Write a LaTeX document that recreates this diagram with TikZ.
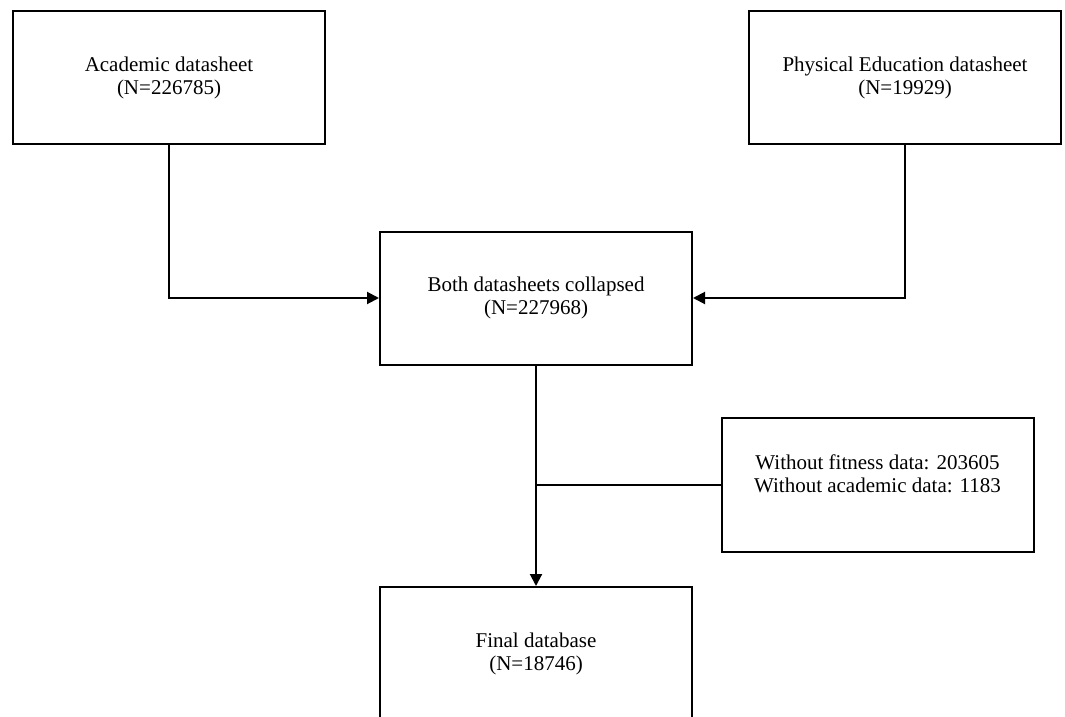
\documentclass[tikz,border=0pt]{standalone}
\usepackage{fontspec}
\setmainfont{Liberation Serif}
\usetikzlibrary{arrows.meta}
\begin{document}
\begin{tikzpicture}[x=1pt,y=-1pt,
  box/.style={draw,line width=2pt,minimum width=312pt,minimum height=133pt,inner sep=0pt,
    align=center,font=\fontsize{21}{23}\selectfont},
  conn/.style={line width=2pt},
  arr/.style={conn,-{Triangle[length=12pt,width=12pt]}}]
\useasboundingbox (0,0) rectangle (1065,717);
\node[box] (acad) at (169,77.5) {Academic datasheet\\(N=226785)};
\node[box] (pe) at (905,77.5) {Physical Education datasheet\\(N=19929)};
\node[box] (both) at (536,298) {Both datasheets collapsed\\(N=227968)};
\node[box,minimum height=134pt] (without) at (877.5,485) {Without fitness data: 203605\\Without academic data: 1183\\\mbox{}};
\node[box] (final) at (536,653.5) {Final database\\(N=18746)};
\draw[arr] (acad.south) |- (both.west);
\draw[arr] (pe.south) |- (both.east);
\draw[arr] (both.south) -- (final.north);
\coordinate (join) at (without.west -| both.south);
\draw[conn] (without.west) -- (join);
\end{tikzpicture}
\end{document}
